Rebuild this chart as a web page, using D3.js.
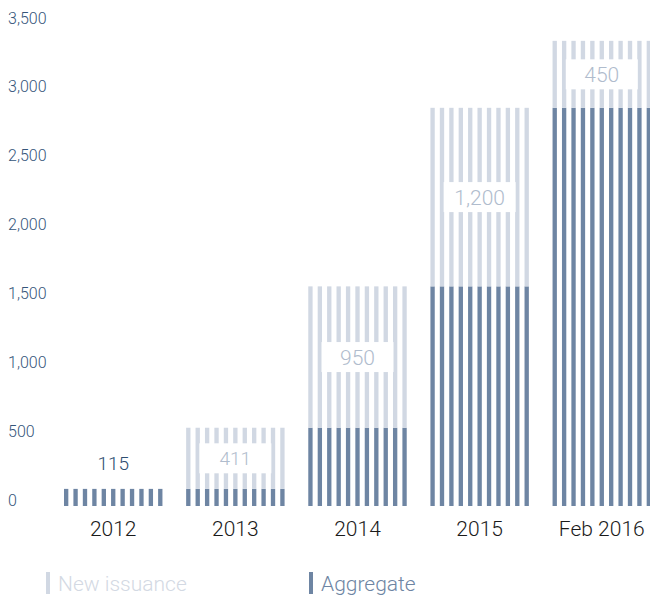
<!DOCTYPE html>
<html>
<head>
<meta charset="utf-8">
<script src="https://cdn.jsdelivr.net/npm/d3@7"></script>
<style>
  body { margin: 0; background: #fff; }
  svg text { font-family: Roboto, "Liberation Sans", sans-serif; font-weight: 300; }
</style>
</head>
<body>
<div id="app"></div>
<script>
'use strict'

// Chart data
const categories = ['2012', '2013', '2014', '2015', 'Feb 2016']
const aggregate = [115, 115, 526, 1476, 2676]
const newIssuance = [0, 411, 950, 1200, 450]
const labelValues = [115, 411, 950, 1200, 450]
const yTicks = [0, 500, 1000, 1500, 2000, 2500, 3000, 3500]
const legendItems = ['New issuance', 'Aggregate']

const setWidth = 650
const setHeight = 597
const darkColor = '#6e85a3'
const lightColor = '#d1d8e3'

const svg = d3.select('#app')
  .append('svg')
  .attr('width', setWidth)
  .attr('height', setHeight)

const scaleX = d3.scaleBand()
  .domain(categories)
  .range([64, 651])
  .paddingInner(0.194)
  .paddingOuter(0)

// bars
const scaleY = d3.scaleLinear()
  .domain([0, 3500])
  .range([506, 506 - 3500 * 0.1488])

// axis labels (placed as in the picture)
const scaleTick = d3.scaleLinear()
  .domain([0, 3500])
  .range([500, 18])

const stripeIdx = d3.range(11)
const scaleStripe = d3.scaleBand()
  .domain(stripeIdx)
  .range([0, scaleX.bandwidth()])
  .paddingInner(0.54)
  .paddingOuter(0)

const rows = categories.map((c, i) => ({
  cat: c,
  agg: aggregate[i],
  add: newIssuance[i],
  label: labelValues[i]
}))

const bars = svg.selectAll('.bar')
  .data(rows)
  .enter()
  .append('g')
  .attr('class', 'bar')
  .attr('transform', d => `translate(${scaleX(d.cat)},0)`)

bars.selectAll('.dark')
  .data(d => stripeIdx.map(s => ({ s, d })))
  .enter()
  .append('rect')
  .attr('x', o => scaleStripe(o.s))
  .attr('width', scaleStripe.bandwidth())
  .attr('y', o => scaleY(o.d.agg))
  .attr('height', o => scaleY(0) - scaleY(o.d.agg))
  .attr('fill', darkColor)

bars.filter(d => d.add > 0)
  .selectAll('.light')
  .data(d => stripeIdx.map(s => ({ s, d })))
  .enter()
  .append('rect')
  .attr('x', o => scaleStripe(o.s))
  .attr('width', scaleStripe.bandwidth())
  .attr('y', o => scaleY(o.d.agg + o.d.add))
  .attr('height', o => scaleY(o.d.agg) - scaleY(o.d.agg + o.d.add))
  .attr('fill', lightColor)

const fmt = d3.format(',')
const bw = scaleX.bandwidth()

// labels inside the new issuance part
const inner = bars.filter(d => d.add > 0)
inner.append('rect')
  .attr('x', bw / 2 - 36)
  .attr('width', 72)
  .attr('y', d => scaleY(d.agg + d.add / 2) - 15)
  .attr('height', 30)
  .attr('fill', '#fff')

inner.append('text')
  .attr('x', bw / 2)
  .attr('y', d => scaleY(d.agg + d.add / 2))
  .attr('dy', '0.36em')
  .attr('text-anchor', 'middle')
  .attr('fill', '#b0bccd')
  .style('font-size', (d, i) => i === 0 ? '19px' : '21px')
  .text(d => fmt(d.label))

// first year: label above the bar
bars.filter(d => d.add === 0)
  .append('text')
  .attr('x', bw / 2)
  .attr('y', d => scaleY(d.agg) - 26)
  .attr('dy', '0.36em')
  .attr('text-anchor', 'middle')
  .attr('fill', '#2e4d70')
  .style('font-size', '19px')
  .text(d => fmt(d.label))

// y axis
const yAxis = svg.append('g')
  .attr('transform', 'translate(8,0)')
  .call(d3.axisRight(scaleTick).tickValues(yTicks).tickSize(0).tickPadding(0).tickFormat(fmt))
yAxis.select('.domain').remove()
yAxis.selectAll('text')
  .attr('fill', '#35557a')
  .style('font-size', '16px')

// x axis
const xAxis = svg.append('g')
  .attr('transform', 'translate(0,521)')
  .call(d3.axisBottom(scaleX).tickSize(0).tickPadding(0))
xAxis.select('.domain').remove()
xAxis.selectAll('text')
  .attr('fill', '#1a1a1a')
  .style('font-size', '21px')

// legend
const legendX = [46, 309]
const legendColors = [lightColor, darkColor]
const legend = svg.selectAll('.legend')
  .data(legendItems)
  .enter()
  .append('g')
  .attr('class', 'legend')
  .attr('transform', (d, i) => `translate(${legendX[i]},572)`)

legend.append('rect')
  .attr('width', 4)
  .attr('height', 22)
  .attr('fill', (d, i) => legendColors[i])

legend.append('text')
  .attr('x', 12)
  .attr('y', 19)
  .attr('fill', (d, i) => i === 0 ? '#d3d9e3' : darkColor)
  .style('font-size', '21px')
  .text(d => d)
</script>
</body>
</html>
